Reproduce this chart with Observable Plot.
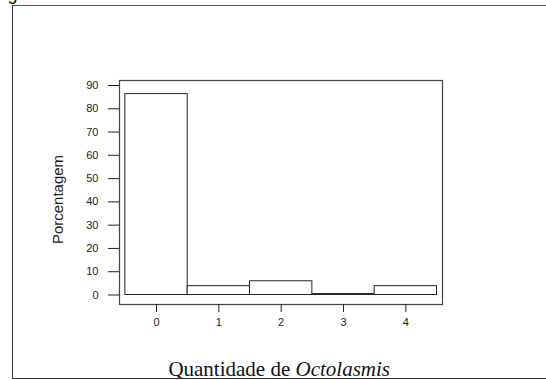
<!DOCTYPE html>
<html>
<head>
<meta charset="utf-8">
<script src="https://cdn.jsdelivr.net/npm/d3@7"></script>
<script src="https://cdn.jsdelivr.net/npm/@observablehq/plot@0.6"></script>
<style>
  body { margin: 0; background: white; }
  #wrap { position: relative; width: 546px; height: 380px; overflow: hidden; }
  #border { position: absolute; left: 12px; top: 5px; width: 534px; height: 372px;
            border-left: 1px solid #333; border-top: 1.5px solid #555; border-bottom: 1.5px solid #333;
            pointer-events: none; }
  #chart { position: absolute; left: 0; top: 0; }
</style>
</head>
<body>
<div id="wrap"><div id="chart"></div><div id="border"></div></div>
<script>
const categories = [0, 1, 2, 3, 4];
const percentages = [86.3, 3.8, 5.9, 0.4, 3.8];
const yTicks = [0, 10, 20, 30, 40, 50, 60, 70, 80, 90];
const xTicks = [0, 1, 2, 3, 4];
const yLabel = "Porcentagem";
const xLabelA = "Quantidade de ";
const xLabelB = "Octolasmis";

const data = categories.map((c, i) => ({x1: c - 0.5, x2: c + 0.5, value: percentages[i]}));

const chart = Plot.plot({
  width: 546,
  height: 380,
  marginLeft: 119,
  marginRight: 104,
  marginTop: 80,
  marginBottom: 76,
  style: {background: "transparent", fontFamily: "Liberation Sans, Arial, sans-serif", color: "#222"},
  x: {type: "linear", domain: [-0.594, 4.588]},
  y: {domain: [-4.08, 92.15]},
  marks: [
    Plot.rect(data, {x1: "x1", x2: "x2", y1: 0, y2: "value", fill: "white", stroke: "#222", strokeWidth: 1}),
    Plot.frame({stroke: "#444", strokeWidth: 1.2}),
    Plot.axisY({ticks: yTicks, tickFormat: d3.format("d"), tickSize: 11, tickPadding: 10, fontSize: 11, label: null, stroke: "#222"}),
    Plot.axisX({ticks: xTicks, tickFormat: d3.format("d"), tickSize: 8, tickPadding: 6, fontSize: 11, label: null, stroke: "#222"}),
    Plot.text([yLabel], {text: d => d, frameAnchor: "left", dx: -61, dy: 7, rotate: -90,
      textAnchor: "middle", lineAnchor: "middle", fontSize: 15, fill: "#222"}),
    Plot.text([xLabelA], {text: d => d, frameAnchor: "bottom", dx: 14.5, dy: 71, textAnchor: "end",
      lineAnchor: "bottom", fontSize: 21, fontFamily: "Liberation Serif, Times New Roman, serif", fill: "#111"}),
    Plot.text([xLabelB], {text: d => d, frameAnchor: "bottom", dx: 14.5, dy: 71, textAnchor: "start",
      lineAnchor: "bottom", fontSize: 21, fontStyle: "italic", fontFamily: "Liberation Serif, Times New Roman, serif", fill: "#111"}),
    Plot.text(["g"], {text: d => d, frameAnchor: "top-left", dx: -107, dy: -81, textAnchor: "middle",
      lineAnchor: "bottom", fontSize: 18, fill: "#111"})
  ]
});
document.getElementById("chart").appendChild(chart);
</script>
</body>
</html>
